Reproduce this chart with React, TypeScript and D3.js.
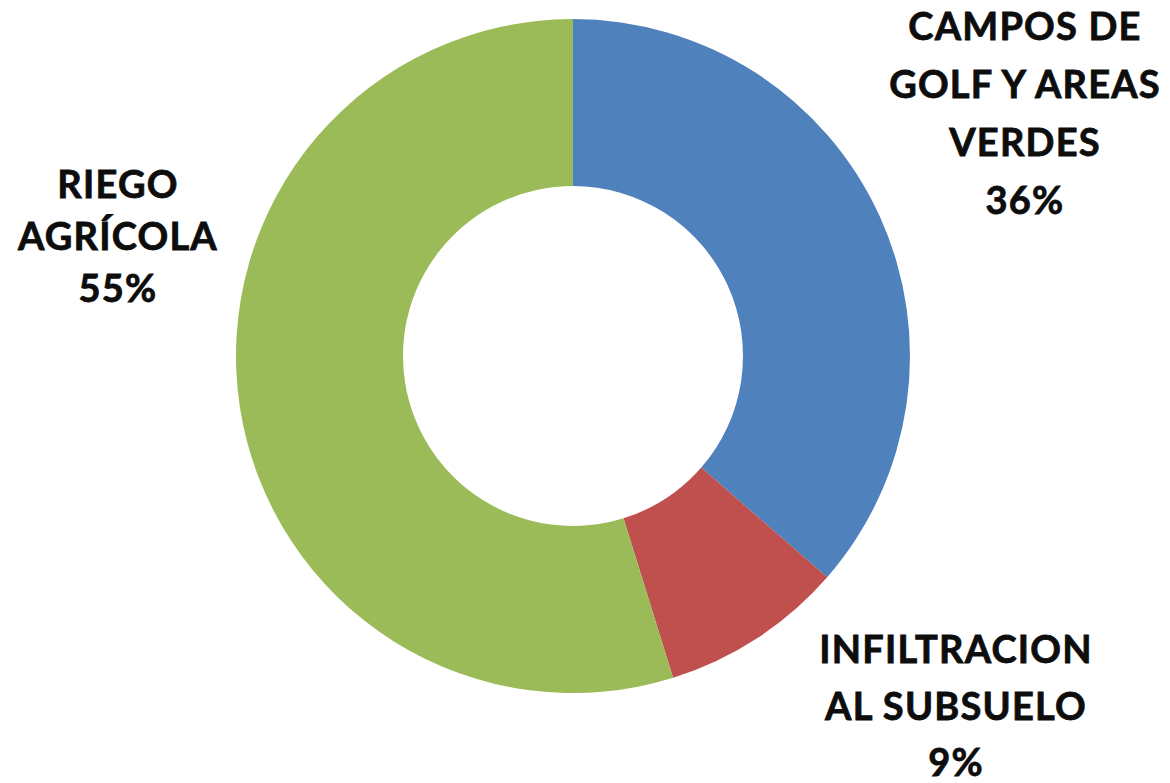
import React from "react";
import * as d3 from "d3";

const categories = ["CAMPOS DE GOLF Y AREAS VERDES", "INFILTRACION AL SUBSUELO", "RIEGO AGRÍCOLA"];
const values = [36.4, 8.8, 54.8];
const colors = ["#4F81BD", "#C0504D", "#9BBB59"];
const labelLines = [
  ["CAMPOS DE", "GOLF Y AREAS", "VERDES"],
  ["INFILTRACION", "AL SUBSUELO"],
  ["RIEGO", "AGRÍCOLA"],
];
const labelAnchors = [
  { x: 1025, y: 40, lh: 58 },
  { x: 956, y: 663, lh: 56.5 },
  { x: 118, y: 198, lh: 52 },
];

export default function App() {
  const W = 1170, H = 783;
  const cx = 573, cy = 356;
  const outerR = 337, innerR = 170;
  const pie = d3.pie<number>().sort(null).value((d) => d)(values);
  const arc = d3.arc<d3.PieArcDatum<number>>().innerRadius(innerR).outerRadius(outerR);
  const total = d3.sum(values);
  return (
    <svg width={W} height={H} style={{ position: "absolute", left: 0, top: 0, background: "#fff" }}>
      <g transform={`translate(${cx},${cy})`}>
        {pie.map((p, i) => (
          <path key={categories[i]} d={arc(p) || ""} fill={colors[i]} />
        ))}
      </g>
      {labelLines.map((lines, i) => {
        const all = [...lines, `${Math.round((values[i] / total) * 100)}%`];
        return (
          <text
            key={i}
            textAnchor="middle"
            fontFamily="Lato, 'Open Sans', sans-serif"
            fontWeight="bold"
            fontSize={38}
            letterSpacing={1.2}
            fill="#0d0d0d"
            stroke="#0d0d0d"
            strokeWidth={0.8}
          >
            {all.map((l, j) => (
              <tspan key={j} x={labelAnchors[i].x} y={labelAnchors[i].y + j * labelAnchors[i].lh}>
                {l}
              </tspan>
            ))}
          </text>
        );
      })}
    </svg>
  );
}
